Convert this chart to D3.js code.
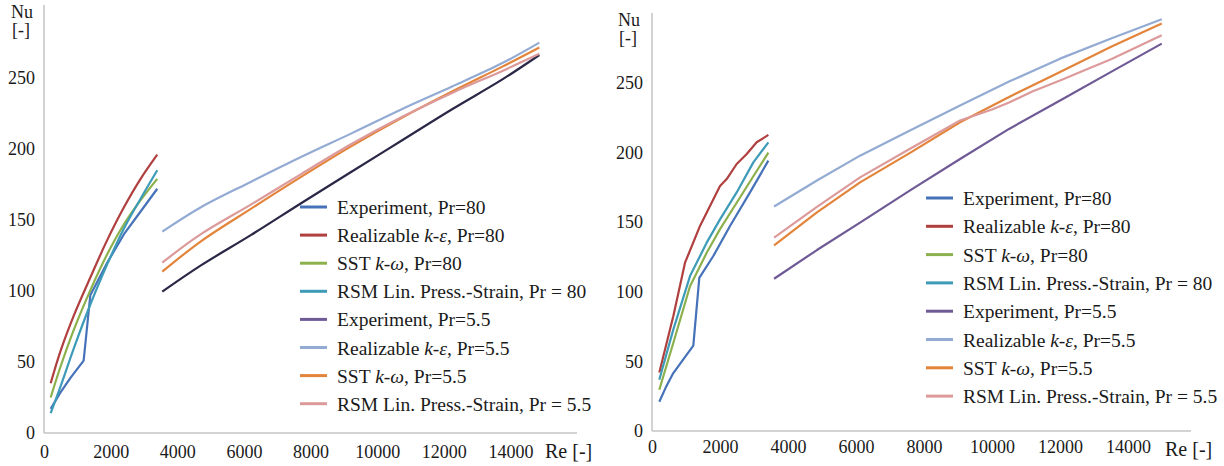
<!DOCTYPE html>
<meta charset="utf-8" />
<script src="https://d3js.org/d3.v7.min.js"></script>
<style>
  body { margin: 0; background: #fff; }
  svg text { font-family: "Liberation Serif", "Times New Roman", serif !important; fill: #1a1a1a; }
</style>
<svg width="1224" height="466" id="chart" font-family="Liberation Serif"></svg>
<script>
var FONT = "Liberation Serif";

// tick labels
var reTicks = [0, 2000, 4000, 6000, 8000, 10000, 12000, 14000];
var nuTicks = [0, 50, 100, 150, 200, 250];

// legend entries: [plain, italic, plain]
var legendText = [
  ["Experiment, Pr=80", "", ""],
  ["Realizable ", "k-ε", ", Pr=80"],
  ["SST ", "k-ω", ", Pr=80"],
  ["RSM Lin. Press.-Strain, Pr = 80", "", ""],
  ["Experiment, Pr=5.5", "", ""],
  ["Realizable ", "k-ε", ", Pr=5.5"],
  ["SST ", "k-ω", ", Pr=5.5"],
  ["RSM Lin. Press.-Strain, Pr = 5.5", "", ""]
];
var legendColors = ["#4572b8", "#b0403f", "#8cb04c", "#3d9bb8", "#6f5a96", "#93abd3", "#e3843b", "#dc9a9a"];

// left panel, [Re, Nu]
var leftExp80 = [[200,17],[480,28],[800,39],[1190,51],[1390,97],[1900,120],[2400,140],[2900,156],[3400,172]];
var leftRke80 = [[200,35],[500,58],[900,83],[1400,110],[1900,136],[2400,159],[2900,179],[3400,196]];
var leftSst80 = [[200,25],[500,47],[900,73],[1400,101],[1900,126],[2400,147],[2900,164],[3400,179]];
var leftRsm80 = [[200,14],[500,33],[900,60],[1400,91],[1900,119],[2400,144],[2900,165],[3400,185]];
var leftExp55 = [[3550,99.5],[4710,118],[6220,139.5],[7730,162],[9230,184],[10740,206],[12250,228],[13760,249],[14870,266.2]];
var leftRke55 = [[3550,141.8],[4710,159],[6220,177],[7730,194.5],[9230,211],[10740,228],[12250,244],[13760,260.5],[14870,274.9]];
var leftSst55 = [[3550,113.6],[4710,135],[6220,158],[7730,180.5],[9230,202],[10740,222],[12250,240.5],[13760,258],[14870,271.5]];
var leftRsm55 = [[3550,120],[4710,140],[6220,161],[7730,182.5],[9230,203.5],[10740,222.5],[12250,239.5],[13760,255],[14870,267]];

// right panel, [Re, Nu]
var rightExp80 = [[215,21],[400,31],[626,41.6],[1215,61.3],[1391,110],[1803,125.7],[2294,147.3],[2882,171.4],[3421,194.2]];
var rightRke80 = [[215,42],[626,82.4],[971,120.9],[1412,147.3],[2000,176],[2196,181],[2490,191.8],[2785,199],[3078,207.4],[3422,212.7]];
var rightSst80 = [[215,29.6],[626,63.2],[1118,104],[1608,128],[2000,145],[2490,164],[2980,183],[3422,200]];
var rightRsm80 = [[215,36.8],[626,72.8],[1118,111.3],[1608,135.3],[2000,152],[2490,171.4],[2980,193],[3422,207.4]];
var rightExp55 = [[3590,109.4],[4850,130],[6118,149.7],[7600,173],[9059,195.4],[10500,217],[12000,237.4],[13500,258],[14990,278.3]];
var rightRke55 = [[3590,161.3],[4850,180],[6118,197.8],[7600,216],[9059,233.8],[10500,251],[12000,267.5],[13500,282],[14990,295.8]];
var rightSst55 = [[3590,133.4],[4850,157],[6118,178.6],[7600,200],[9059,221.8],[10500,240],[12000,257.9],[13500,276],[14990,292.7]];
var rightRsm55 = [[3590,138.9],[4850,161],[6118,182.2],[7600,203],[9059,223],[10000,231],[10500,236],[11200,244],[12000,251.8],[12700,259],[13500,267],[14990,284.3]];

var svg = d3.select("#chart");

function drawPanel(p) {
  var x = d3.scaleLinear().domain([0, p.reMax]).range([p.x0, p.x1]);
  var y = d3.scaleLinear().domain([0, 250]).range([p.y0, p.y250]);
  var g = svg.append("g").attr("font-family", FONT);

  // axes (no tick marks, grey lines)
  var xa = g.append("g").attr("transform", "translate(0," + p.y0 + ")")
    .call(d3.axisBottom(x).tickValues(reTicks).tickSize(0).tickPadding(p.xPad).tickFormat(d3.format("d")));
  var ya = g.append("g").attr("transform", "translate(" + p.x0 + ",0)")
    .call(d3.axisLeft(y).tickValues(nuTicks).tickSize(0).tickPadding(9));
  [xa, ya].forEach(function (a) {
    a.attr("font-family", FONT).attr("font-size", 18);
    a.select(".domain").remove();
    a.selectAll("text").attr("font-family", FONT).attr("font-size", 18).attr("fill", "#1a1a1a");
  });
  g.append("line").attr("x1", p.x0).attr("x2", p.x0).attr("y1", p.yTop).attr("y2", p.y0)
    .attr("stroke", "#c4c4c4").attr("stroke-width", 1.5);
  g.append("line").attr("x1", p.x0).attr("x2", p.x1).attr("y1", p.y0).attr("y2", p.y0)
    .attr("stroke", "#c4c4c4").attr("stroke-width", 1.5);

  // axis titles
  g.append("text").attr("x", p.nuX).attr("y", p.nuY).attr("font-family", FONT).attr("font-size", 18).text("Nu");
  g.append("text").attr("x", p.nuX + 1).attr("y", p.nuY + 18).attr("font-family", FONT).attr("font-size", 18).text("[-]");
  g.append("text").attr("x", p.reX).attr("y", p.y0 + 25).attr("font-family", FONT).attr("font-size", 20).text("Re [-]");

  // data lines
  p.series.forEach(function (s, i) {
    var line = d3.line().x(function (d) { return x(d[0]); }).y(function (d) { return y(d[1]); })
      .curve(p.curves[i]);
    g.append("path").datum(s).attr("d", line).attr("fill", "none")
      .attr("stroke", p.colors[i]).attr("stroke-width", 2.2).attr("stroke-linejoin", "round");
  });

  // legend
  legendText.forEach(function (t, i) {
    var ly = p.legY + i * p.legStep;
    g.append("line").attr("x1", p.legX).attr("x2", p.legX + 27).attr("y1", ly).attr("y2", ly)
      .attr("stroke", legendColors[i]).attr("stroke-width", 3);
    var tx = g.append("text").attr("x", p.legX + 37).attr("y", ly + 7)
      .attr("font-family", FONT).attr("font-size", 19.5);
    tx.append("tspan").text(t[0]);
    if (t[1]) tx.append("tspan").attr("font-style", "italic").text(t[1]);
    if (t[2]) tx.append("tspan").text(t[2]);
  });
}

var smooth = d3.curveCatmullRom.alpha(0.5), straight = d3.curveLinear;

drawPanel({
  x0: 44, x1: 577, reMax: 16000, y0: 433, y250: 78, yTop: 5, xPad: 12,
  nuX: 11, nuY: 18, reX: 545, legX: 300, legY: 207, legStep: 28.1,
  curves: [straight, smooth, smooth, smooth, smooth, smooth, smooth, smooth],
  series: [leftExp80, leftRke80, leftSst80, leftRsm80, leftExp55, leftRke55, leftSst55, leftRsm55],
  colors: ["#4572b8", "#b0403f", "#8cb04c", "#3d9bb8", "#2a2846", "#93abd3", "#e3843b", "#dc9a9a"]
});

drawPanel({
  x0: 652, x1: 1191, reMax: 15850, y0: 431, y250: 83, yTop: 13, xPad: 9,
  nuX: 618, nuY: 26, reX: 1165, legX: 926, legY: 198, legStep: 28.3,
  curves: [straight, straight, straight, straight, straight, straight, straight, straight],
  series: [rightExp80, rightRke80, rightSst80, rightRsm80, rightExp55, rightRke55, rightSst55, rightRsm55],
  colors: ["#4572b8", "#b0403f", "#8cb04c", "#3d9bb8", "#6f5a96", "#93abd3", "#e3843b", "#dc9a9a"]
});
</script>
